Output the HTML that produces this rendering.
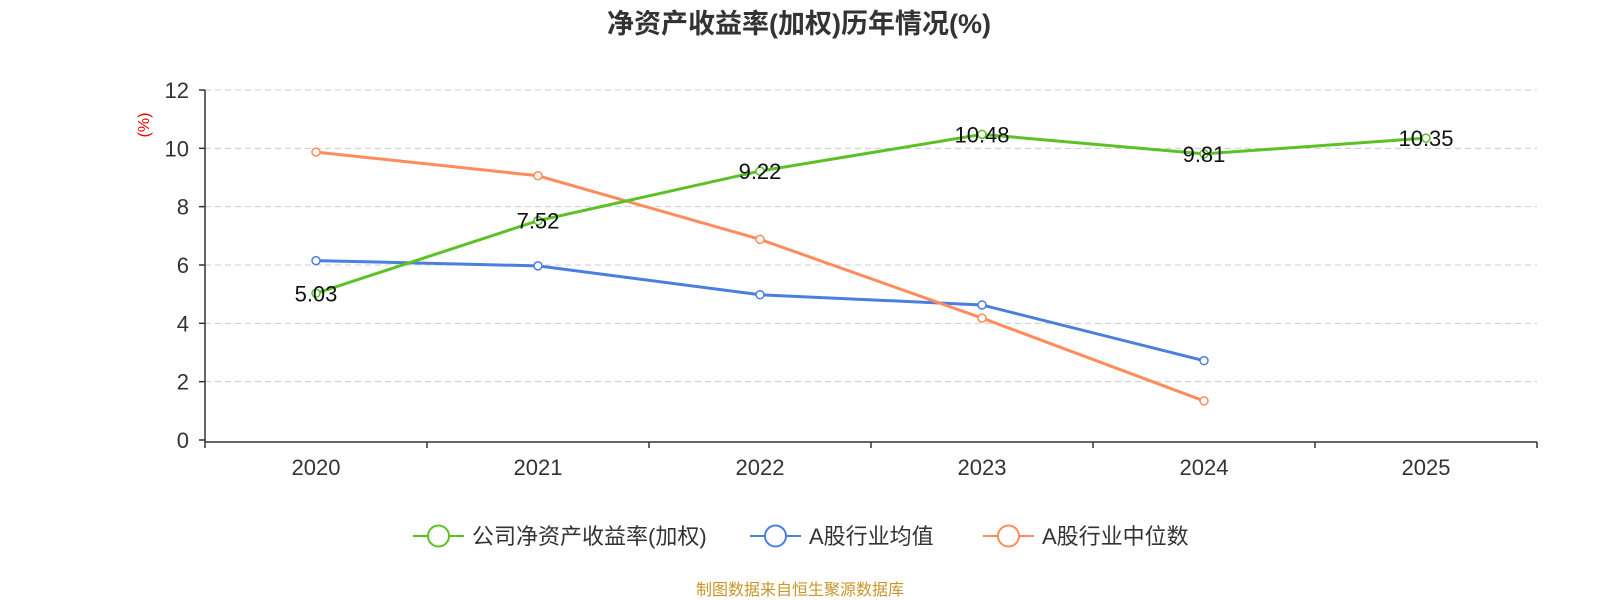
<!DOCTYPE html>
<html><head><meta charset="utf-8">
<style>
body{margin:0;background:#fff;}
svg{display:block;font-family:"Liberation Sans","Noto Sans CJK SC",sans-serif;}
</style></head>
<body>
<svg id="chart" width="1600" height="600" viewBox="0 0 1600 600" xmlns="http://www.w3.org/2000/svg">
<text x="799" y="33" text-anchor="middle" font-size="27" font-weight="bold" fill="#333">净资产收益率(加权)历年情况(%)</text>
<text x="149" y="125" text-anchor="middle" font-size="16" fill="#e00" transform="rotate(-90 149 125)">(%)</text>
<g id="grid"></g><g id="axes"></g><g id="series"></g><g id="legend"></g>
<text x="800" y="595" text-anchor="middle" font-size="16" fill="#c8962a">制图数据来自恒生聚源数据库</text>
</svg>
<script>
const categories=["2020","2021","2022","2023","2024","2025"];
const companyValues=[5.03,7.52,9.22,10.48,9.81,10.35];
const avgValues=[6.15,5.97,4.98,4.63,2.72];
const medianValues=[9.87,9.06,6.88,4.18,1.34];
const yTicks=[0,2,4,6,8,10,12];
const seriesNames=["公司净资产收益率(加权)","A股行业均值","A股行业中位数"];
const NS="http://www.w3.org/2000/svg";
const X0=205,X1=1537,Y0=440,Y1=90;
const band=(X1-X0)/categories.length;
const xs=i=>X0+band*(i+0.5);
const ys=v=>Y0-(v/12)*(Y0-Y1);
function mk(p,t,a){const e=document.createElementNS(NS,t);for(const k in a)e.setAttribute(k,a[k]);p.appendChild(e);return e;}
const grid=document.getElementById('grid'),axes=document.getElementById('axes'),ser=document.getElementById('series'),leg=document.getElementById('legend');
yTicks.forEach(t=>{
 if(t>0){const l=mk(grid,'line',{x1:X0,x2:X1,y1:ys(t),y2:ys(t),stroke:'#ccc','stroke-dasharray':'6,4'});
 
 }
 const tx=mk(axes,'text',{x:189,y:ys(t)+8,'text-anchor':'end','font-size':22,fill:'#333'});tx.textContent=t;
 
 
 const tk=mk(axes,'line',{x1:199,x2:X0,y1:ys(t),y2:ys(t),stroke:'#333','stroke-width':1.5});
 
 
});
const ya=mk(axes,'line',{x1:X0,x2:X0,y1:Y1,y2:Y0+2,stroke:'#333','stroke-width':1.5});


const xa=mk(axes,'line',{x1:X0,x2:X1,y1:Y0+2,y2:Y0+2,stroke:'#333','stroke-width':1.5});


for(let i=0;i<=categories.length;i++){const tk=mk(axes,'line',{x1:X0+band*i,x2:X0+band*i,y1:Y0+2,y2:Y0+8,stroke:'#333','stroke-width':1.5});
 
 }
categories.forEach((c,i)=>{const t=mk(axes,'text',{x:xs(i),y:475,'text-anchor':'middle','font-size':22,fill:'#333'});t.textContent=c;
 
 });
function draw(vals,color,name,labels){
 const g=mk(ser,'g',{});
 
 
 mk(g,'polyline',{points:vals.map((v,i)=>xs(i)+','+ys(v)).join(' '),fill:'none',stroke:color,'stroke-width':3});
 vals.forEach((v,i)=>{const c=mk(g,'circle',{cx:xs(i),cy:ys(v),r:4,fill:'#fff',stroke:color,'stroke-width':1.5});
  
  
  if(labels){const t=mk(g,'text',{x:xs(i),y:ys(v)+8,'text-anchor':'middle','font-size':22,fill:'#111'});t.textContent=v.toFixed(2);
  
  }});
}
draw(avgValues,'#4a7fe0','series-industry-average',false);
draw(medianValues,'#ff8c5a','series-industry-median',false);
draw(companyValues,'#5cc126','series-company-roe',true);
const colors=['#5cc126','#4a7fe0','#ff8c5a'];
const lx=[413,750,983];
seriesNames.forEach((n,i)=>{
 const g=mk(leg,'g',{});
 
 
 mk(g,'line',{x1:lx[i],x2:lx[i]+51,y1:536,y2:536,stroke:colors[i],'stroke-width':2});
 mk(g,'circle',{cx:lx[i]+25.5,cy:536,r:10.5,fill:'#fff',stroke:colors[i],'stroke-width':2});
 const t=mk(g,'text',{x:lx[i]+59,y:544,'font-size':22,fill:'#333'});t.textContent=n;
});
</script>
</body></html>
